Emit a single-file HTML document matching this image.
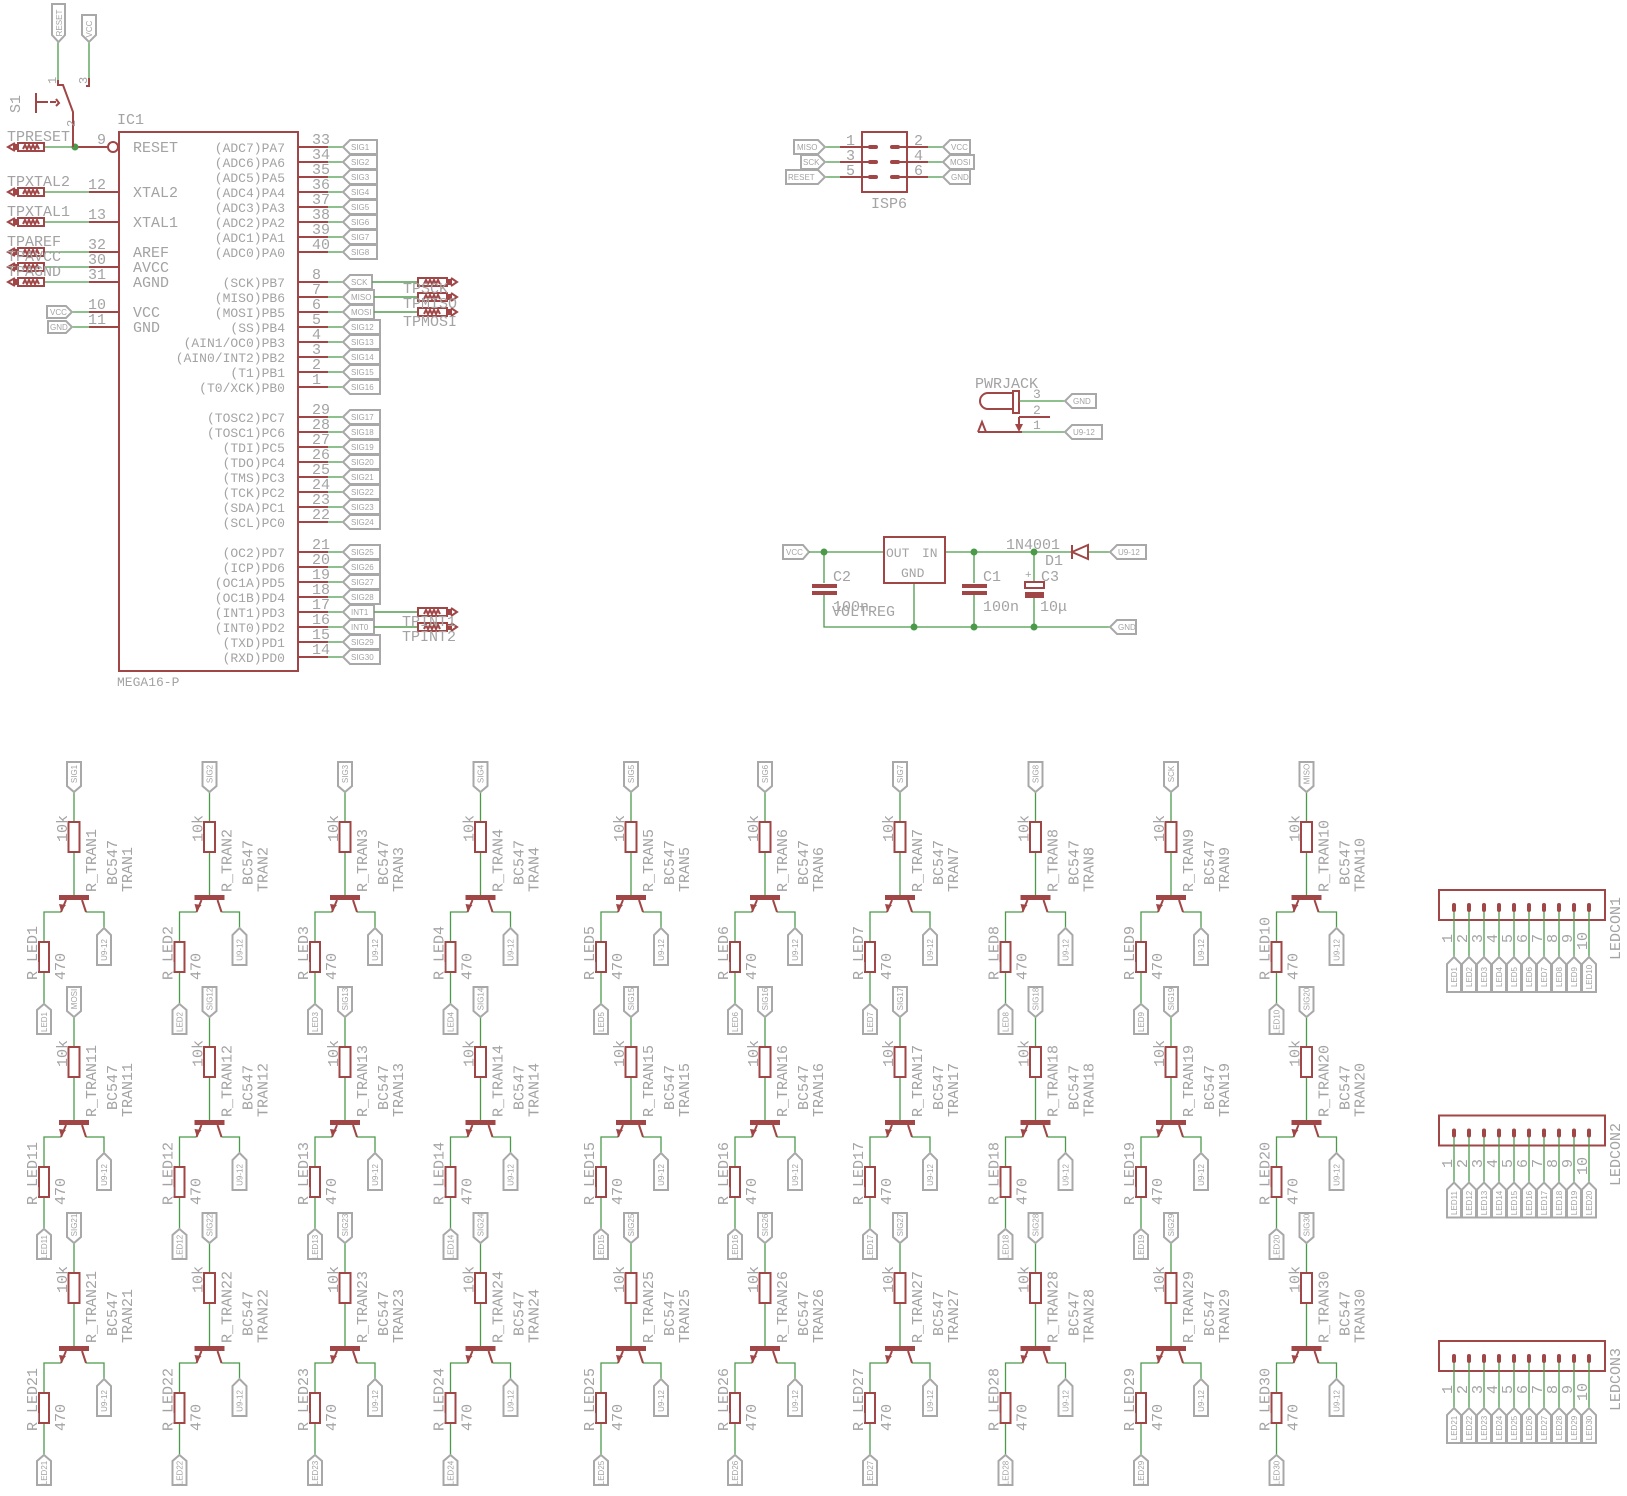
<!DOCTYPE html>
<html><head><meta charset="utf-8"><style>
html,body{margin:0;padding:0;background:#fff}
svg{display:block}
text{font-family:"Liberation Mono",monospace;font-size:15px;fill:#a3a3a3}
.s{font-family:"Liberation Sans",sans-serif;font-size:8px;fill:#a3a3a3}
.pn text{font-size:13px}
.r{stroke:#a04646;fill:none;stroke-width:2}
.w{stroke:#4a9a4a;fill:none;stroke-width:1.3}
.tg{stroke:#a8a8a8;fill:#fff;stroke-width:2}
</style></head><body>
<svg width="1627" height="1496" viewBox="0 0 1627 1496" xmlns="http://www.w3.org/2000/svg">
<defs>
<g id="cell">
<path class="w" d="M0,-106V-76M0,-46V-3M-13,14H-30V44M-30,74V106M12,14H30V30"/>
<polygon class="tg" points="-7,-136 7,-136 7,-112 0,-106 -7,-112"/>
<rect class="r" x="-5.5" y="-76" width="11" height="30" stroke-width="2.5"/>
<rect x="-15" y="-3" width="30" height="5" fill="#a04646"/>
<path class="r" d="M-8,2L-13,14M8,2L12,14"/>
<polygon points="-13,13 -15,6 -8,7" fill="#a04646"/>
<rect class="r" x="-35" y="44" width="10" height="30" stroke-width="2.5"/>
<polygon class="tg" points="-30,106 -23,112 -23,136 -37,136 -37,112"/>
<polygon class="tg" points="30,30 37,37 37,67 23,67 23,37"/>
</g>
<g id="tpl"><path class="r" d="M15,-4L8,0L15,4" stroke-width="1.5"/><rect x="13" y="-3" width="5" height="6" fill="#a04646"/><rect class="r" x="18" y="-4" width="26" height="8" stroke-width="1.5"/><path class="r" stroke-width="0.8" d="M23,2L25,-2L27,2L29,-2L31,2L33,-2L35,2L37,-2L39,2"/></g>
<g id="tpr"><rect class="r" x="418" y="-4" width="29" height="8" stroke-width="1.5"/><path class="r" stroke-width="0.8" d="M424,2L426,-2L428,2L430,-2L432,2L434,-2L436,2L438,-2L440,2"/><rect x="447" y="-3" width="5" height="6" fill="#a04646"/><path class="r" d="M451,-4L457,0L451,4" stroke-width="1.5"/></g>
<g id="cpin"><rect x="-2" y="903" width="4" height="9" rx="2" fill="#a04646"/><path class="w" d="M0,912V957"/><polygon class="tg" points="0,957 7,964 7,992 -7,992 -7,964"/></g>
</defs>

<!-- ===== IC1 ===== -->
<rect class="r" x="119" y="132" width="179" height="539" stroke-width="2.5"/>
<text x="117" y="124">IC1</text>
<text x="117" y="686" style="font-size:13px">MEGA16-P</text>
<path class="r" d="M89,192H119M89,222H119M89,252H119M89,267H119M89,282H119M89,312H119M89,327H119M75,147H108"/>
<circle cx="113" cy="147" r="5" class="r" fill="#fff"/>
<path class="w" d="M44,147H75M44,192H89M44,222H89M44,252H89M44,267H89M44,282H89M72,312H89M72,327H89"/>
<circle cx="75" cy="147" r="3.5" fill="#4a9a4a"/>
<use href="#tpl" y="147"/><use href="#tpl" y="192"/><use href="#tpl" y="222"/><use href="#tpl" y="252"/><use href="#tpl" y="267"/><use href="#tpl" y="282"/>
<text x="7" y="141">TPRESET</text><text x="7" y="186">TPXTAL2</text><text x="7" y="216">TPXTAL1</text>
<text x="7" y="246">TPAREF</text><text x="7" y="261">TPAVCC</text><text x="7" y="276">TPAGND</text>
<text x="97" y="144">9</text><text x="88" y="189">12</text><text x="88" y="219">13</text><text x="88" y="249">32</text><text x="88" y="264">30</text><text x="88" y="279">31</text><text x="88" y="309">10</text><text x="88" y="324">11</text>
<text x="133" y="152">RESET</text><text x="133" y="197">XTAL2</text><text x="133" y="227">XTAL1</text><text x="133" y="257">AREF</text><text x="133" y="272">AVCC</text><text x="133" y="287">AGND</text><text x="133" y="317">VCC</text><text x="133" y="332">GND</text>
<polygon class="tg" points="47,306 66,306 72,312 66,318 47,318"/><text class="s" x="50" y="315">VCC</text>
<polygon class="tg" points="48,321 66,321 72,327 66,333 48,333"/><text class="s" x="50" y="330">GND</text>
<path class="w" d="M58,42V80M89,42V78"/>
<polygon class="tg" points="52,4 65,4 65,35 58.5,42 52,35"/><text class="s" transform="translate(62,23) rotate(-90)" text-anchor="middle">RESET</text>
<polygon class="tg" points="82,15 96,15 96,35 89,42 82,35"/><text class="s" transform="translate(92,29) rotate(-90)" text-anchor="middle">VCC</text>
<path class="r" d="M58,80V85H63L73,112V147M89,78V86H86M36,93V113M36,102H48" stroke-width="1.8"/>
<path class="r" d="M50,102H56M56,99L59,103L56,106" stroke-width="1"/>
<text transform="translate(20,113) rotate(-90)">S1</text>
<text transform="translate(56,84) rotate(-90)" style="font-size:12px">1</text>
<text transform="translate(87,84) rotate(-90)" style="font-size:12px">3</text>
<text transform="translate(75,127) rotate(-90)" style="font-size:12px">2</text>
<g class="r"><path d="M298,147H328M298,162H328M298,177H328M298,192H328M298,207H328M298,222H328M298,237H328M298,252H328M298,282H328M298,297H328M298,312H328M298,327H328M298,342H328M298,357H328M298,372H328M298,387H328M298,417H328M298,432H328M298,447H328M298,462H328M298,477H328M298,492H328M298,507H328M298,522H328M298,552H328M298,567H328M298,582H328M298,597H328M298,612H328M298,627H328M298,642H328M298,657H328"/></g>
<g class="w"><path d="M328,147H343M328,162H343M328,177H343M328,192H343M328,207H343M328,222H343M328,237H343M328,252H343M328,282H418M328,297H418M328,312H418M328,327H343M328,342H343M328,357H343M328,372H343M328,387H343M328,417H343M328,432H343M328,447H343M328,462H343M328,477H343M328,492H343M328,507H343M328,522H343M328,552H343M328,567H343M328,582H343M328,597H343M328,612H418M328,627H418M328,642H343M328,657H343"/></g>
<g id="tags">
<polygon class="tg" points="343,147 350,140 377,140 377,154 350,154"/><polygon class="tg" points="343,162 350,155 377,155 377,169 350,169"/><polygon class="tg" points="343,177 350,170 377,170 377,184 350,184"/><polygon class="tg" points="343,192 350,185 377,185 377,199 350,199"/><polygon class="tg" points="343,207 350,200 377,200 377,214 350,214"/><polygon class="tg" points="343,222 350,215 377,215 377,229 350,229"/><polygon class="tg" points="343,237 350,230 377,230 377,244 350,244"/><polygon class="tg" points="343,252 350,245 377,245 377,259 350,259"/>
<polygon class="tg" points="343,282 350,275 372,275 372,289 350,289"/><polygon class="tg" points="343,297 350,290 374,290 374,304 350,304"/><polygon class="tg" points="343,312 350,305 374,305 374,319 350,319"/>
<polygon class="tg" points="343,327 350,320 380,320 380,334 350,334"/><polygon class="tg" points="343,342 350,335 380,335 380,349 350,349"/><polygon class="tg" points="343,357 350,350 380,350 380,364 350,364"/><polygon class="tg" points="343,372 350,365 380,365 380,379 350,379"/><polygon class="tg" points="343,387 350,380 380,380 380,394 350,394"/>
<polygon class="tg" points="343,417 350,410 380,410 380,424 350,424"/><polygon class="tg" points="343,432 350,425 380,425 380,439 350,439"/><polygon class="tg" points="343,447 350,440 380,440 380,454 350,454"/><polygon class="tg" points="343,462 350,455 380,455 380,469 350,469"/><polygon class="tg" points="343,477 350,470 380,470 380,484 350,484"/><polygon class="tg" points="343,492 350,485 380,485 380,499 350,499"/><polygon class="tg" points="343,507 350,500 380,500 380,514 350,514"/><polygon class="tg" points="343,522 350,515 380,515 380,529 350,529"/>
<polygon class="tg" points="343,552 350,545 380,545 380,559 350,559"/><polygon class="tg" points="343,567 350,560 380,560 380,574 350,574"/><polygon class="tg" points="343,582 350,575 380,575 380,589 350,589"/><polygon class="tg" points="343,597 350,590 380,590 380,604 350,604"/><polygon class="tg" points="343,612 350,605 374,605 374,619 350,619"/><polygon class="tg" points="343,627 350,620 374,620 374,634 350,634"/><polygon class="tg" points="343,642 350,635 380,635 380,649 350,649"/><polygon class="tg" points="343,657 350,650 380,650 380,664 350,664"/>
</g>
<path class="w" d="M372,282H418M374,297H418M374,312H418M374,612H418M374,627H418"/>
<use href="#tpr" y="282"/><use href="#tpr" y="297"/><use href="#tpr" y="312"/><use href="#tpr" y="612"/><use href="#tpr" y="627"/>
<text x="403" y="293">TPSCK</text><text x="403" y="308">TPMISO</text><text x="403" y="326">TPMOSI</text>
<text x="402" y="626">TPINT1</text><text x="402" y="641">TPINT2</text>
<g class="s">
<text class="s" x="351" y="150">SIG1</text><text class="s" x="351" y="165">SIG2</text><text class="s" x="351" y="180">SIG3</text><text class="s" x="351" y="195">SIG4</text><text class="s" x="351" y="210">SIG5</text><text class="s" x="351" y="225">SIG6</text><text class="s" x="351" y="240">SIG7</text><text class="s" x="351" y="255">SIG8</text>
<text class="s" x="351" y="285">SCK</text><text class="s" x="351" y="300">MISO</text><text class="s" x="351" y="315">MOSI</text><text class="s" x="351" y="330">SIG12</text><text class="s" x="351" y="345">SIG13</text><text class="s" x="351" y="360">SIG14</text><text class="s" x="351" y="375">SIG15</text><text class="s" x="351" y="390">SIG16</text>
<text class="s" x="351" y="420">SIG17</text><text class="s" x="351" y="435">SIG18</text><text class="s" x="351" y="450">SIG19</text><text class="s" x="351" y="465">SIG20</text><text class="s" x="351" y="480">SIG21</text><text class="s" x="351" y="495">SIG22</text><text class="s" x="351" y="510">SIG23</text><text class="s" x="351" y="525">SIG24</text>
<text class="s" x="351" y="555">SIG25</text><text class="s" x="351" y="570">SIG26</text><text class="s" x="351" y="585">SIG27</text><text class="s" x="351" y="600">SIG28</text><text class="s" x="351" y="615">INT1</text><text class="s" x="351" y="630">INT0</text><text class="s" x="351" y="645">SIG29</text><text class="s" x="351" y="660">SIG30</text>
</g>
<g text-anchor="end" class="pn">
<text x="285" y="152">(ADC7)PA7</text><text x="285" y="167">(ADC6)PA6</text><text x="285" y="182">(ADC5)PA5</text><text x="285" y="197">(ADC4)PA4</text><text x="285" y="212">(ADC3)PA3</text><text x="285" y="227">(ADC2)PA2</text><text x="285" y="242">(ADC1)PA1</text><text x="285" y="257">(ADC0)PA0</text>
<text x="285" y="287">(SCK)PB7</text><text x="285" y="302">(MISO)PB6</text><text x="285" y="317">(MOSI)PB5</text><text x="285" y="332">(SS)PB4</text><text x="285" y="347">(AIN1/OC0)PB3</text><text x="285" y="362">(AIN0/INT2)PB2</text><text x="285" y="377">(T1)PB1</text><text x="285" y="392">(T0/XCK)PB0</text>
<text x="285" y="422">(TOSC2)PC7</text><text x="285" y="437">(TOSC1)PC6</text><text x="285" y="452">(TDI)PC5</text><text x="285" y="467">(TDO)PC4</text><text x="285" y="482">(TMS)PC3</text><text x="285" y="497">(TCK)PC2</text><text x="285" y="512">(SDA)PC1</text><text x="285" y="527">(SCL)PC0</text>
<text x="285" y="557">(OC2)PD7</text><text x="285" y="572">(ICP)PD6</text><text x="285" y="587">(OC1A)PD5</text><text x="285" y="602">(OC1B)PD4</text><text x="285" y="617">(INT1)PD3</text><text x="285" y="632">(INT0)PD2</text><text x="285" y="647">(TXD)PD1</text><text x="285" y="662">(RXD)PD0</text>
</g>
<g>
<text x="312" y="144">33</text><text x="312" y="159">34</text><text x="312" y="174">35</text><text x="312" y="189">36</text><text x="312" y="204">37</text><text x="312" y="219">38</text><text x="312" y="234">39</text><text x="312" y="249">40</text>
<text x="312" y="279">8</text><text x="312" y="294">7</text><text x="312" y="309">6</text><text x="312" y="324">5</text><text x="312" y="339">4</text><text x="312" y="354">3</text><text x="312" y="369">2</text><text x="312" y="384">1</text>
<text x="312" y="414">29</text><text x="312" y="429">28</text><text x="312" y="444">27</text><text x="312" y="459">26</text><text x="312" y="474">25</text><text x="312" y="489">24</text><text x="312" y="504">23</text><text x="312" y="519">22</text>
<text x="312" y="549">21</text><text x="312" y="564">20</text><text x="312" y="579">19</text><text x="312" y="594">18</text><text x="312" y="609">17</text><text x="312" y="624">16</text><text x="312" y="639">15</text><text x="312" y="654">14</text>
</g>

<!-- ===== ISP6 ===== -->
<rect class="r" x="862" y="132" width="45" height="60" stroke-width="2.5"/>
<path class="w" d="M825,147H840M825,162H840M825,177H840M928,147H943M928,162H943M928,177H943"/>
<path class="r" d="M840,147H872M840,162H872M840,177H872M896,147H928M896,162H928M896,177H928"/>
<g fill="#a04646"><rect x="868" y="145" width="10" height="4" rx="2"/><rect x="868" y="160" width="10" height="4" rx="2"/><rect x="868" y="175" width="10" height="4" rx="2"/><rect x="890" y="145" width="10" height="4" rx="2"/><rect x="890" y="160" width="10" height="4" rx="2"/><rect x="890" y="175" width="10" height="4" rx="2"/></g>
<polygon class="tg" points="794,140 818,140 825,147 818,154 794,154"/><text class="s" x="797" y="150">MISO</text>
<polygon class="tg" points="801,155 818,155 825,162 818,169 801,169"/><text class="s" x="803" y="165">SCK</text>
<polygon class="tg" points="786,170 818,170 825,177 818,184 786,184"/><text class="s" x="788" y="180">RESET</text>
<polygon class="tg" points="943,147 950,140 970,140 970,154 950,154"/><text class="s" x="951" y="150">VCC</text>
<polygon class="tg" points="943,162 950,155 974,155 974,169 950,169"/><text class="s" x="950" y="165">MOSI</text>
<polygon class="tg" points="943,177 950,170 970,170 970,184 950,184"/><text class="s" x="951" y="180">GND</text>
<text x="846" y="145">1</text><text x="846" y="160">3</text><text x="846" y="175">5</text>
<text x="914" y="145">2</text><text x="914" y="160">4</text><text x="914" y="175">6</text>
<text x="871" y="208">ISP6</text>

<!-- ===== PWRJACK ===== -->
<text x="975" y="388">PWRJACK</text>
<path class="r" d="M1013,393H988A8,8 0 0 0 988,409H1013" stroke-width="1.5"/>
<rect class="r" x="1013" y="391" width="6" height="22" stroke-width="1.5"/>
<path class="w" d="M1019,401H1065M1022,432H1065"/>
<path class="r" d="M1019,417H1050M1019,417V426M978,432H1022M978,432L982,422L986,432" stroke-width="1.5"/>
<polygon points="1015,424 1023,424 1019,432" fill="#a04646"/>
<text x="1033" y="398" style="font-size:13px">3</text><text x="1033" y="414" style="font-size:13px">2</text><text x="1033" y="429" style="font-size:13px">1</text>
<polygon class="tg" points="1065,401 1072,394 1096,394 1096,408 1072,408"/><text class="s" x="1073" y="404">GND</text>
<polygon class="tg" points="1065,432 1072,425 1102,425 1102,439 1072,439"/><text class="s" x="1073" y="435">U9-12</text>

<!-- ===== VOLTREG ===== -->
<polygon class="tg" points="783,545 803,545 809,552 803,559 783,559"/><text class="s" x="786" y="555">VCC</text>
<path class="w" d="M809,552H884M945,552H1072M1088,552H1110M824,552V583M824,594V627H1110M914,583V627M974,552V583M974,594V627M1034,552V581M1034,598V627"/>
<rect class="r" x="884" y="537" width="61" height="46" stroke-width="2.5"/>
<text x="886" y="557" style="font-size:13px">OUT</text><text x="922" y="557" style="font-size:13px">IN</text><text x="901" y="577" style="font-size:13px">GND</text>
<g fill="#a04646"><rect x="812" y="584" width="25" height="4"/><rect x="812" y="591" width="25" height="4"/><rect x="962" y="584" width="25" height="4"/><rect x="962" y="591" width="25" height="4"/><rect x="1025" y="592" width="19" height="6"/></g>
<rect class="r" x="1025" y="582" width="19" height="6" stroke-width="1.5"/>
<path class="r" d="M1072,545V559M1072,552L1088,545V559Z" stroke-width="2.5"/>
<g fill="#4a9a4a"><circle cx="824" cy="552" r="3.5"/><circle cx="974" cy="552" r="3.5"/><circle cx="1034" cy="552" r="3.5"/><circle cx="914" cy="627" r="3.5"/><circle cx="974" cy="627" r="3.5"/><circle cx="1034" cy="627" r="3.5"/></g>
<polygon class="tg" points="1110,552 1117,545 1146,545 1146,559 1117,559"/><text class="s" x="1118" y="555">U9-12</text>
<polygon class="tg" points="1110,627 1117,620 1136,620 1136,634 1117,634"/><text class="s" x="1118" y="630">GND</text>
<text x="833" y="581">C2</text><text x="833" y="611">100n</text><text x="832" y="616">VOLTREG</text>
<text x="983" y="581">C1</text><text x="983" y="611">100n</text>
<text x="1041" y="581">C3</text><text x="1025" y="578" style="font-size:11px">+</text><text x="1040" y="611">10μ</text>
<text x="1006" y="549">1N4001</text><text x="1045" y="565">D1</text>

<!-- ===== CELLS ===== -->
<g transform="translate(74,898)"><use href="#cell"/><text class="s" transform="translate(3,-124) rotate(-90)" text-anchor="middle">SIG1</text><text transform="translate(-7,-56) rotate(-90)">10k</text><text transform="translate(22,-6) rotate(-90)">R_TRAN1</text><text transform="translate(43,-13) rotate(-90)">BC547</text><text transform="translate(58,-6) rotate(-90)">TRAN1</text><text transform="translate(-37,82) rotate(-90)">R_LED1</text><text transform="translate(-9,82) rotate(-90)">470</text><text class="s" transform="translate(33,52) rotate(-90)" text-anchor="middle">U9-12</text><text class="s" transform="translate(-27,124) rotate(-90)" text-anchor="middle">LED1</text></g>
<g transform="translate(209.5,898)"><use href="#cell"/><text class="s" transform="translate(3,-124) rotate(-90)" text-anchor="middle">SIG2</text><text transform="translate(-7,-56) rotate(-90)">10k</text><text transform="translate(22,-6) rotate(-90)">R_TRAN2</text><text transform="translate(43,-13) rotate(-90)">BC547</text><text transform="translate(58,-6) rotate(-90)">TRAN2</text><text transform="translate(-37,82) rotate(-90)">R_LED2</text><text transform="translate(-9,82) rotate(-90)">470</text><text class="s" transform="translate(33,52) rotate(-90)" text-anchor="middle">U9-12</text><text class="s" transform="translate(-27,124) rotate(-90)" text-anchor="middle">LED2</text></g>
<g transform="translate(345,898)"><use href="#cell"/><text class="s" transform="translate(3,-124) rotate(-90)" text-anchor="middle">SIG3</text><text transform="translate(-7,-56) rotate(-90)">10k</text><text transform="translate(22,-6) rotate(-90)">R_TRAN3</text><text transform="translate(43,-13) rotate(-90)">BC547</text><text transform="translate(58,-6) rotate(-90)">TRAN3</text><text transform="translate(-37,82) rotate(-90)">R_LED3</text><text transform="translate(-9,82) rotate(-90)">470</text><text class="s" transform="translate(33,52) rotate(-90)" text-anchor="middle">U9-12</text><text class="s" transform="translate(-27,124) rotate(-90)" text-anchor="middle">LED3</text></g>
<g transform="translate(480.5,898)"><use href="#cell"/><text class="s" transform="translate(3,-124) rotate(-90)" text-anchor="middle">SIG4</text><text transform="translate(-7,-56) rotate(-90)">10k</text><text transform="translate(22,-6) rotate(-90)">R_TRAN4</text><text transform="translate(43,-13) rotate(-90)">BC547</text><text transform="translate(58,-6) rotate(-90)">TRAN4</text><text transform="translate(-37,82) rotate(-90)">R_LED4</text><text transform="translate(-9,82) rotate(-90)">470</text><text class="s" transform="translate(33,52) rotate(-90)" text-anchor="middle">U9-12</text><text class="s" transform="translate(-27,124) rotate(-90)" text-anchor="middle">LED4</text></g>
<g transform="translate(631,898)"><use href="#cell"/><text class="s" transform="translate(3,-124) rotate(-90)" text-anchor="middle">SIG5</text><text transform="translate(-7,-56) rotate(-90)">10k</text><text transform="translate(22,-6) rotate(-90)">R_TRAN5</text><text transform="translate(43,-13) rotate(-90)">BC547</text><text transform="translate(58,-6) rotate(-90)">TRAN5</text><text transform="translate(-37,82) rotate(-90)">R_LED5</text><text transform="translate(-9,82) rotate(-90)">470</text><text class="s" transform="translate(33,52) rotate(-90)" text-anchor="middle">U9-12</text><text class="s" transform="translate(-27,124) rotate(-90)" text-anchor="middle">LED5</text></g>
<g transform="translate(765,898)"><use href="#cell"/><text class="s" transform="translate(3,-124) rotate(-90)" text-anchor="middle">SIG6</text><text transform="translate(-7,-56) rotate(-90)">10k</text><text transform="translate(22,-6) rotate(-90)">R_TRAN6</text><text transform="translate(43,-13) rotate(-90)">BC547</text><text transform="translate(58,-6) rotate(-90)">TRAN6</text><text transform="translate(-37,82) rotate(-90)">R_LED6</text><text transform="translate(-9,82) rotate(-90)">470</text><text class="s" transform="translate(33,52) rotate(-90)" text-anchor="middle">U9-12</text><text class="s" transform="translate(-27,124) rotate(-90)" text-anchor="middle">LED6</text></g>
<g transform="translate(900,898)"><use href="#cell"/><text class="s" transform="translate(3,-124) rotate(-90)" text-anchor="middle">SIG7</text><text transform="translate(-7,-56) rotate(-90)">10k</text><text transform="translate(22,-6) rotate(-90)">R_TRAN7</text><text transform="translate(43,-13) rotate(-90)">BC547</text><text transform="translate(58,-6) rotate(-90)">TRAN7</text><text transform="translate(-37,82) rotate(-90)">R_LED7</text><text transform="translate(-9,82) rotate(-90)">470</text><text class="s" transform="translate(33,52) rotate(-90)" text-anchor="middle">U9-12</text><text class="s" transform="translate(-27,124) rotate(-90)" text-anchor="middle">LED7</text></g>
<g transform="translate(1035.5,898)"><use href="#cell"/><text class="s" transform="translate(3,-124) rotate(-90)" text-anchor="middle">SIG8</text><text transform="translate(-7,-56) rotate(-90)">10k</text><text transform="translate(22,-6) rotate(-90)">R_TRAN8</text><text transform="translate(43,-13) rotate(-90)">BC547</text><text transform="translate(58,-6) rotate(-90)">TRAN8</text><text transform="translate(-37,82) rotate(-90)">R_LED8</text><text transform="translate(-9,82) rotate(-90)">470</text><text class="s" transform="translate(33,52) rotate(-90)" text-anchor="middle">U9-12</text><text class="s" transform="translate(-27,124) rotate(-90)" text-anchor="middle">LED8</text></g>
<g transform="translate(1171,898)"><use href="#cell"/><text class="s" transform="translate(3,-124) rotate(-90)" text-anchor="middle">SCK</text><text transform="translate(-7,-56) rotate(-90)">10k</text><text transform="translate(22,-6) rotate(-90)">R_TRAN9</text><text transform="translate(43,-13) rotate(-90)">BC547</text><text transform="translate(58,-6) rotate(-90)">TRAN9</text><text transform="translate(-37,82) rotate(-90)">R_LED9</text><text transform="translate(-9,82) rotate(-90)">470</text><text class="s" transform="translate(33,52) rotate(-90)" text-anchor="middle">U9-12</text><text class="s" transform="translate(-27,124) rotate(-90)" text-anchor="middle">LED9</text></g>
<g transform="translate(1306.5,898)"><use href="#cell"/><text class="s" transform="translate(3,-124) rotate(-90)" text-anchor="middle">MISO</text><text transform="translate(-7,-56) rotate(-90)">10k</text><text transform="translate(22,-6) rotate(-90)">R_TRAN10</text><text transform="translate(43,-13) rotate(-90)">BC547</text><text transform="translate(58,-6) rotate(-90)">TRAN10</text><text transform="translate(-37,82) rotate(-90)">R_LED10</text><text transform="translate(-9,82) rotate(-90)">470</text><text class="s" transform="translate(33,52) rotate(-90)" text-anchor="middle">U9-12</text><text class="s" transform="translate(-27,124) rotate(-90)" text-anchor="middle">LED10</text></g>

<g transform="translate(74,1123)"><use href="#cell"/><text class="s" transform="translate(3,-124) rotate(-90)" text-anchor="middle">MOSI</text><text transform="translate(-7,-56) rotate(-90)">10k</text><text transform="translate(22,-6) rotate(-90)">R_TRAN11</text><text transform="translate(43,-13) rotate(-90)">BC547</text><text transform="translate(58,-6) rotate(-90)">TRAN11</text><text transform="translate(-37,82) rotate(-90)">R_LED11</text><text transform="translate(-9,82) rotate(-90)">470</text><text class="s" transform="translate(33,52) rotate(-90)" text-anchor="middle">U9-12</text><text class="s" transform="translate(-27,124) rotate(-90)" text-anchor="middle">LED11</text></g>
<g transform="translate(209.5,1123)"><use href="#cell"/><text class="s" transform="translate(3,-124) rotate(-90)" text-anchor="middle">SIG12</text><text transform="translate(-7,-56) rotate(-90)">10k</text><text transform="translate(22,-6) rotate(-90)">R_TRAN12</text><text transform="translate(43,-13) rotate(-90)">BC547</text><text transform="translate(58,-6) rotate(-90)">TRAN12</text><text transform="translate(-37,82) rotate(-90)">R_LED12</text><text transform="translate(-9,82) rotate(-90)">470</text><text class="s" transform="translate(33,52) rotate(-90)" text-anchor="middle">U9-12</text><text class="s" transform="translate(-27,124) rotate(-90)" text-anchor="middle">LED12</text></g>
<g transform="translate(345,1123)"><use href="#cell"/><text class="s" transform="translate(3,-124) rotate(-90)" text-anchor="middle">SIG13</text><text transform="translate(-7,-56) rotate(-90)">10k</text><text transform="translate(22,-6) rotate(-90)">R_TRAN13</text><text transform="translate(43,-13) rotate(-90)">BC547</text><text transform="translate(58,-6) rotate(-90)">TRAN13</text><text transform="translate(-37,82) rotate(-90)">R_LED13</text><text transform="translate(-9,82) rotate(-90)">470</text><text class="s" transform="translate(33,52) rotate(-90)" text-anchor="middle">U9-12</text><text class="s" transform="translate(-27,124) rotate(-90)" text-anchor="middle">LED13</text></g>
<g transform="translate(480.5,1123)"><use href="#cell"/><text class="s" transform="translate(3,-124) rotate(-90)" text-anchor="middle">SIG14</text><text transform="translate(-7,-56) rotate(-90)">10k</text><text transform="translate(22,-6) rotate(-90)">R_TRAN14</text><text transform="translate(43,-13) rotate(-90)">BC547</text><text transform="translate(58,-6) rotate(-90)">TRAN14</text><text transform="translate(-37,82) rotate(-90)">R_LED14</text><text transform="translate(-9,82) rotate(-90)">470</text><text class="s" transform="translate(33,52) rotate(-90)" text-anchor="middle">U9-12</text><text class="s" transform="translate(-27,124) rotate(-90)" text-anchor="middle">LED14</text></g>
<g transform="translate(631,1123)"><use href="#cell"/><text class="s" transform="translate(3,-124) rotate(-90)" text-anchor="middle">SIG15</text><text transform="translate(-7,-56) rotate(-90)">10k</text><text transform="translate(22,-6) rotate(-90)">R_TRAN15</text><text transform="translate(43,-13) rotate(-90)">BC547</text><text transform="translate(58,-6) rotate(-90)">TRAN15</text><text transform="translate(-37,82) rotate(-90)">R_LED15</text><text transform="translate(-9,82) rotate(-90)">470</text><text class="s" transform="translate(33,52) rotate(-90)" text-anchor="middle">U9-12</text><text class="s" transform="translate(-27,124) rotate(-90)" text-anchor="middle">LED15</text></g>
<g transform="translate(765,1123)"><use href="#cell"/><text class="s" transform="translate(3,-124) rotate(-90)" text-anchor="middle">SIG16</text><text transform="translate(-7,-56) rotate(-90)">10k</text><text transform="translate(22,-6) rotate(-90)">R_TRAN16</text><text transform="translate(43,-13) rotate(-90)">BC547</text><text transform="translate(58,-6) rotate(-90)">TRAN16</text><text transform="translate(-37,82) rotate(-90)">R_LED16</text><text transform="translate(-9,82) rotate(-90)">470</text><text class="s" transform="translate(33,52) rotate(-90)" text-anchor="middle">U9-12</text><text class="s" transform="translate(-27,124) rotate(-90)" text-anchor="middle">LED16</text></g>
<g transform="translate(900,1123)"><use href="#cell"/><text class="s" transform="translate(3,-124) rotate(-90)" text-anchor="middle">SIG17</text><text transform="translate(-7,-56) rotate(-90)">10k</text><text transform="translate(22,-6) rotate(-90)">R_TRAN17</text><text transform="translate(43,-13) rotate(-90)">BC547</text><text transform="translate(58,-6) rotate(-90)">TRAN17</text><text transform="translate(-37,82) rotate(-90)">R_LED17</text><text transform="translate(-9,82) rotate(-90)">470</text><text class="s" transform="translate(33,52) rotate(-90)" text-anchor="middle">U9-12</text><text class="s" transform="translate(-27,124) rotate(-90)" text-anchor="middle">LED17</text></g>
<g transform="translate(1035.5,1123)"><use href="#cell"/><text class="s" transform="translate(3,-124) rotate(-90)" text-anchor="middle">SIG18</text><text transform="translate(-7,-56) rotate(-90)">10k</text><text transform="translate(22,-6) rotate(-90)">R_TRAN18</text><text transform="translate(43,-13) rotate(-90)">BC547</text><text transform="translate(58,-6) rotate(-90)">TRAN18</text><text transform="translate(-37,82) rotate(-90)">R_LED18</text><text transform="translate(-9,82) rotate(-90)">470</text><text class="s" transform="translate(33,52) rotate(-90)" text-anchor="middle">U9-12</text><text class="s" transform="translate(-27,124) rotate(-90)" text-anchor="middle">LED18</text></g>
<g transform="translate(1171,1123)"><use href="#cell"/><text class="s" transform="translate(3,-124) rotate(-90)" text-anchor="middle">SIG19</text><text transform="translate(-7,-56) rotate(-90)">10k</text><text transform="translate(22,-6) rotate(-90)">R_TRAN19</text><text transform="translate(43,-13) rotate(-90)">BC547</text><text transform="translate(58,-6) rotate(-90)">TRAN19</text><text transform="translate(-37,82) rotate(-90)">R_LED19</text><text transform="translate(-9,82) rotate(-90)">470</text><text class="s" transform="translate(33,52) rotate(-90)" text-anchor="middle">U9-12</text><text class="s" transform="translate(-27,124) rotate(-90)" text-anchor="middle">LED19</text></g>
<g transform="translate(1306.5,1123)"><use href="#cell"/><text class="s" transform="translate(3,-124) rotate(-90)" text-anchor="middle">SIG20</text><text transform="translate(-7,-56) rotate(-90)">10k</text><text transform="translate(22,-6) rotate(-90)">R_TRAN20</text><text transform="translate(43,-13) rotate(-90)">BC547</text><text transform="translate(58,-6) rotate(-90)">TRAN20</text><text transform="translate(-37,82) rotate(-90)">R_LED20</text><text transform="translate(-9,82) rotate(-90)">470</text><text class="s" transform="translate(33,52) rotate(-90)" text-anchor="middle">U9-12</text><text class="s" transform="translate(-27,124) rotate(-90)" text-anchor="middle">LED20</text></g>

<g transform="translate(74,1349)"><use href="#cell"/><text class="s" transform="translate(3,-124) rotate(-90)" text-anchor="middle">SIG21</text><text transform="translate(-7,-56) rotate(-90)">10k</text><text transform="translate(22,-6) rotate(-90)">R_TRAN21</text><text transform="translate(43,-13) rotate(-90)">BC547</text><text transform="translate(58,-6) rotate(-90)">TRAN21</text><text transform="translate(-37,82) rotate(-90)">R_LED21</text><text transform="translate(-9,82) rotate(-90)">470</text><text class="s" transform="translate(33,52) rotate(-90)" text-anchor="middle">U9-12</text><text class="s" transform="translate(-27,124) rotate(-90)" text-anchor="middle">LED21</text></g>
<g transform="translate(209.5,1349)"><use href="#cell"/><text class="s" transform="translate(3,-124) rotate(-90)" text-anchor="middle">SIG22</text><text transform="translate(-7,-56) rotate(-90)">10k</text><text transform="translate(22,-6) rotate(-90)">R_TRAN22</text><text transform="translate(43,-13) rotate(-90)">BC547</text><text transform="translate(58,-6) rotate(-90)">TRAN22</text><text transform="translate(-37,82) rotate(-90)">R_LED22</text><text transform="translate(-9,82) rotate(-90)">470</text><text class="s" transform="translate(33,52) rotate(-90)" text-anchor="middle">U9-12</text><text class="s" transform="translate(-27,124) rotate(-90)" text-anchor="middle">LED22</text></g>
<g transform="translate(345,1349)"><use href="#cell"/><text class="s" transform="translate(3,-124) rotate(-90)" text-anchor="middle">SIG23</text><text transform="translate(-7,-56) rotate(-90)">10k</text><text transform="translate(22,-6) rotate(-90)">R_TRAN23</text><text transform="translate(43,-13) rotate(-90)">BC547</text><text transform="translate(58,-6) rotate(-90)">TRAN23</text><text transform="translate(-37,82) rotate(-90)">R_LED23</text><text transform="translate(-9,82) rotate(-90)">470</text><text class="s" transform="translate(33,52) rotate(-90)" text-anchor="middle">U9-12</text><text class="s" transform="translate(-27,124) rotate(-90)" text-anchor="middle">LED23</text></g>
<g transform="translate(480.5,1349)"><use href="#cell"/><text class="s" transform="translate(3,-124) rotate(-90)" text-anchor="middle">SIG24</text><text transform="translate(-7,-56) rotate(-90)">10k</text><text transform="translate(22,-6) rotate(-90)">R_TRAN24</text><text transform="translate(43,-13) rotate(-90)">BC547</text><text transform="translate(58,-6) rotate(-90)">TRAN24</text><text transform="translate(-37,82) rotate(-90)">R_LED24</text><text transform="translate(-9,82) rotate(-90)">470</text><text class="s" transform="translate(33,52) rotate(-90)" text-anchor="middle">U9-12</text><text class="s" transform="translate(-27,124) rotate(-90)" text-anchor="middle">LED24</text></g>
<g transform="translate(631,1349)"><use href="#cell"/><text class="s" transform="translate(3,-124) rotate(-90)" text-anchor="middle">SIG25</text><text transform="translate(-7,-56) rotate(-90)">10k</text><text transform="translate(22,-6) rotate(-90)">R_TRAN25</text><text transform="translate(43,-13) rotate(-90)">BC547</text><text transform="translate(58,-6) rotate(-90)">TRAN25</text><text transform="translate(-37,82) rotate(-90)">R_LED25</text><text transform="translate(-9,82) rotate(-90)">470</text><text class="s" transform="translate(33,52) rotate(-90)" text-anchor="middle">U9-12</text><text class="s" transform="translate(-27,124) rotate(-90)" text-anchor="middle">LED25</text></g>
<g transform="translate(765,1349)"><use href="#cell"/><text class="s" transform="translate(3,-124) rotate(-90)" text-anchor="middle">SIG26</text><text transform="translate(-7,-56) rotate(-90)">10k</text><text transform="translate(22,-6) rotate(-90)">R_TRAN26</text><text transform="translate(43,-13) rotate(-90)">BC547</text><text transform="translate(58,-6) rotate(-90)">TRAN26</text><text transform="translate(-37,82) rotate(-90)">R_LED26</text><text transform="translate(-9,82) rotate(-90)">470</text><text class="s" transform="translate(33,52) rotate(-90)" text-anchor="middle">U9-12</text><text class="s" transform="translate(-27,124) rotate(-90)" text-anchor="middle">LED26</text></g>
<g transform="translate(900,1349)"><use href="#cell"/><text class="s" transform="translate(3,-124) rotate(-90)" text-anchor="middle">SIG27</text><text transform="translate(-7,-56) rotate(-90)">10k</text><text transform="translate(22,-6) rotate(-90)">R_TRAN27</text><text transform="translate(43,-13) rotate(-90)">BC547</text><text transform="translate(58,-6) rotate(-90)">TRAN27</text><text transform="translate(-37,82) rotate(-90)">R_LED27</text><text transform="translate(-9,82) rotate(-90)">470</text><text class="s" transform="translate(33,52) rotate(-90)" text-anchor="middle">U9-12</text><text class="s" transform="translate(-27,124) rotate(-90)" text-anchor="middle">LED27</text></g>
<g transform="translate(1035.5,1349)"><use href="#cell"/><text class="s" transform="translate(3,-124) rotate(-90)" text-anchor="middle">SIG28</text><text transform="translate(-7,-56) rotate(-90)">10k</text><text transform="translate(22,-6) rotate(-90)">R_TRAN28</text><text transform="translate(43,-13) rotate(-90)">BC547</text><text transform="translate(58,-6) rotate(-90)">TRAN28</text><text transform="translate(-37,82) rotate(-90)">R_LED28</text><text transform="translate(-9,82) rotate(-90)">470</text><text class="s" transform="translate(33,52) rotate(-90)" text-anchor="middle">U9-12</text><text class="s" transform="translate(-27,124) rotate(-90)" text-anchor="middle">LED28</text></g>
<g transform="translate(1171,1349)"><use href="#cell"/><text class="s" transform="translate(3,-124) rotate(-90)" text-anchor="middle">SIG29</text><text transform="translate(-7,-56) rotate(-90)">10k</text><text transform="translate(22,-6) rotate(-90)">R_TRAN29</text><text transform="translate(43,-13) rotate(-90)">BC547</text><text transform="translate(58,-6) rotate(-90)">TRAN29</text><text transform="translate(-37,82) rotate(-90)">R_LED29</text><text transform="translate(-9,82) rotate(-90)">470</text><text class="s" transform="translate(33,52) rotate(-90)" text-anchor="middle">U9-12</text><text class="s" transform="translate(-27,124) rotate(-90)" text-anchor="middle">LED29</text></g>
<g transform="translate(1306.5,1349)"><use href="#cell"/><text class="s" transform="translate(3,-124) rotate(-90)" text-anchor="middle">SIG30</text><text transform="translate(-7,-56) rotate(-90)">10k</text><text transform="translate(22,-6) rotate(-90)">R_TRAN30</text><text transform="translate(43,-13) rotate(-90)">BC547</text><text transform="translate(58,-6) rotate(-90)">TRAN30</text><text transform="translate(-37,82) rotate(-90)">R_LED30</text><text transform="translate(-9,82) rotate(-90)">470</text><text class="s" transform="translate(33,52) rotate(-90)" text-anchor="middle">U9-12</text><text class="s" transform="translate(-27,124) rotate(-90)" text-anchor="middle">LED30</text></g>

<!-- ===== LEDCON ===== -->
<g id="con1">
<rect class="r" x="1439" y="890" width="166" height="30" stroke-width="3"/>
<use href="#cpin" x="1454"/><use href="#cpin" x="1469"/><use href="#cpin" x="1484"/><use href="#cpin" x="1499"/><use href="#cpin" x="1514"/><use href="#cpin" x="1529"/><use href="#cpin" x="1544"/><use href="#cpin" x="1559"/><use href="#cpin" x="1574"/><use href="#cpin" x="1589"/>
</g>
<use href="#con1" y="225.5"/><use href="#con1" y="451"/>
<g style="font-size:13px">
<text transform="translate(1452,943) rotate(-90)">1</text><text transform="translate(1467,943) rotate(-90)">2</text><text transform="translate(1482,943) rotate(-90)">3</text><text transform="translate(1497,943) rotate(-90)">4</text><text transform="translate(1512,943) rotate(-90)">5</text><text transform="translate(1527,943) rotate(-90)">6</text><text transform="translate(1542,943) rotate(-90)">7</text><text transform="translate(1557,943) rotate(-90)">8</text><text transform="translate(1572,943) rotate(-90)">9</text><text transform="translate(1587,950) rotate(-90)">10</text>
<text transform="translate(1452,1168) rotate(-90)">1</text><text transform="translate(1467,1168) rotate(-90)">2</text><text transform="translate(1482,1168) rotate(-90)">3</text><text transform="translate(1497,1168) rotate(-90)">4</text><text transform="translate(1512,1168) rotate(-90)">5</text><text transform="translate(1527,1168) rotate(-90)">6</text><text transform="translate(1542,1168) rotate(-90)">7</text><text transform="translate(1557,1168) rotate(-90)">8</text><text transform="translate(1572,1168) rotate(-90)">9</text><text transform="translate(1587,1175) rotate(-90)">10</text>
<text transform="translate(1452,1394) rotate(-90)">1</text><text transform="translate(1467,1394) rotate(-90)">2</text><text transform="translate(1482,1394) rotate(-90)">3</text><text transform="translate(1497,1394) rotate(-90)">4</text><text transform="translate(1512,1394) rotate(-90)">5</text><text transform="translate(1527,1394) rotate(-90)">6</text><text transform="translate(1542,1394) rotate(-90)">7</text><text transform="translate(1557,1394) rotate(-90)">8</text><text transform="translate(1572,1394) rotate(-90)">9</text><text transform="translate(1587,1401) rotate(-90)">10</text>
</g>
<text transform="translate(1620,960) rotate(-90)">LEDCON1</text>
<text transform="translate(1620,1186) rotate(-90)">LEDCON2</text>
<text transform="translate(1620,1411) rotate(-90)">LEDCON3</text>
<g class="s" text-anchor="middle">
<text class="s" transform="translate(1457,977) rotate(-90)">LED1</text><text class="s" transform="translate(1472,977) rotate(-90)">LED2</text><text class="s" transform="translate(1487,977) rotate(-90)">LED3</text><text class="s" transform="translate(1502,977) rotate(-90)">LED4</text><text class="s" transform="translate(1517,977) rotate(-90)">LED5</text><text class="s" transform="translate(1532,977) rotate(-90)">LED6</text><text class="s" transform="translate(1547,977) rotate(-90)">LED7</text><text class="s" transform="translate(1562,977) rotate(-90)">LED8</text><text class="s" transform="translate(1577,977) rotate(-90)">LED9</text><text class="s" transform="translate(1592,977) rotate(-90)">LED10</text>
<text class="s" transform="translate(1457,1203) rotate(-90)">LED11</text><text class="s" transform="translate(1472,1203) rotate(-90)">LED12</text><text class="s" transform="translate(1487,1203) rotate(-90)">LED13</text><text class="s" transform="translate(1502,1203) rotate(-90)">LED14</text><text class="s" transform="translate(1517,1203) rotate(-90)">LED15</text><text class="s" transform="translate(1532,1203) rotate(-90)">LED16</text><text class="s" transform="translate(1547,1203) rotate(-90)">LED17</text><text class="s" transform="translate(1562,1203) rotate(-90)">LED18</text><text class="s" transform="translate(1577,1203) rotate(-90)">LED19</text><text class="s" transform="translate(1592,1203) rotate(-90)">LED20</text>
<text class="s" transform="translate(1457,1428) rotate(-90)">LED21</text><text class="s" transform="translate(1472,1428) rotate(-90)">LED22</text><text class="s" transform="translate(1487,1428) rotate(-90)">LED23</text><text class="s" transform="translate(1502,1428) rotate(-90)">LED24</text><text class="s" transform="translate(1517,1428) rotate(-90)">LED25</text><text class="s" transform="translate(1532,1428) rotate(-90)">LED26</text><text class="s" transform="translate(1547,1428) rotate(-90)">LED27</text><text class="s" transform="translate(1562,1428) rotate(-90)">LED28</text><text class="s" transform="translate(1577,1428) rotate(-90)">LED29</text><text class="s" transform="translate(1592,1428) rotate(-90)">LED30</text>
</g>
</svg>
</body></html>
